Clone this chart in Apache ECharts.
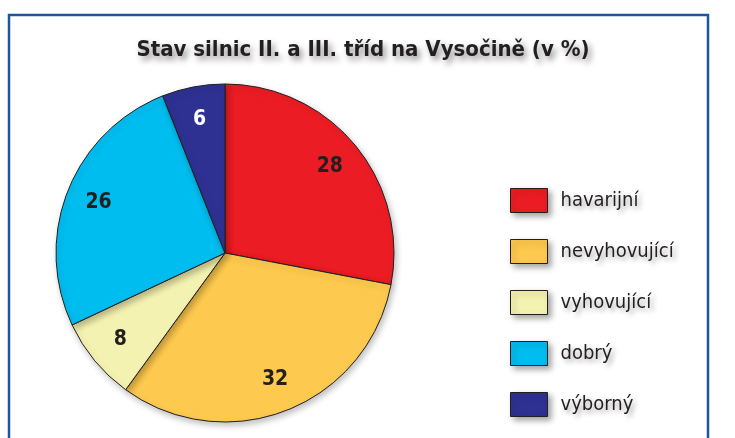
<!DOCTYPE html>
<html>
<head>
<meta charset="utf-8">
<script src="https://cdn.jsdelivr.net/npm/echarts@6/dist/echarts.min.js"></script>
<style>
  html, body { margin: 0; padding: 0; background: #fff; }
  #main { width: 735px; height: 438px; }
</style>
</head>
<body>
<div id="main"></div>
<script>
// stav silnic v %
var categories = ['havarijní', 'nevyhovující', 'vyhovující', 'dobrý', 'výborný'];
var values = [28, 32, 8, 26, 6];
var colors = ['#ec1c24', '#fdc94e', '#f4f2b0', '#00bdf0', '#2e3192'];
var labelColors = ['#231f20', '#231f20', '#231f20', '#231f20', '#ffffff'];

var font = "'DejaVu Sans Condensed', sans-serif";

var pieData = categories.map(function (name, i) {
  return { name: name, value: values[i], itemStyle: { color: colors[i] } };
});
// second (transparent) ring only carries the number labels further out
var labelData = categories.map(function (name, i) {
  return {
    name: name, value: values[i],
    label: { color: labelColors[i] }
  };
});

var myChart = echarts.init(document.getElementById('main'));
myChart.setOption({
  backgroundColor: '#fff',
  animation: false,
  title: {
    text: 'Stav silnic II. a III. tříd na Vysočině (v %)',
    left: 358,
    textAlign: 'center',
    top: 34,
    textStyle: {
      fontFamily: font,
      fontWeight: 'bold',
      fontSize: 22,
      color: '#231f20',
      textShadowColor: 'rgba(0,0,0,0.45)',
      textShadowBlur: 6,
      textShadowOffsetX: 3,
      textShadowOffsetY: 4
    }
  },
  legend: {
    data: categories,
    orient: 'vertical',
    left: 505,
    top: 183,
    itemWidth: 37,
    itemHeight: 24,
    itemGap: 26,
    icon: 'rect',
    itemStyle: {
      borderColor: '#231f20',
      borderWidth: 1,
      shadowColor: 'rgba(0,0,0,0.35)',
      shadowBlur: 6,
      shadowOffsetX: 3,
      shadowOffsetY: 3
    },
    textStyle: {
      fontFamily: font,
      fontSize: 20,
      color: '#231f20',
      padding: [0, 0, 0, 8],
      textShadowColor: 'rgba(0,0,0,0.35)',
      textShadowBlur: 5,
      textShadowOffsetX: 3,
      textShadowOffsetY: 3
    },
    selectedMode: false
  },
  graphic: [{
    type: 'rect',
    shape: { x: 9, y: 15, width: 699, height: 440 },
    style: { fill: 'none', stroke: '#1b55a0', lineWidth: 2.5 },
    z: 100
  }],
  series: [
    {
      name: 'stav',
      type: 'pie',
      center: [225, 253],
      radius: [0, 169],
      startAngle: 90,
      clockwise: true,
      silent: true,
      label: { show: false },
      labelLine: { show: false },
      itemStyle: {
        borderColor: '#231f20',
        borderWidth: 1,
        shadowColor: 'rgba(0,0,0,0.25)',
        shadowBlur: 6,
        shadowOffsetX: 2,
        shadowOffsetY: 3
      },
      data: pieData
    },
    {
      name: 'popisky',
      type: 'pie',
      center: [225, 253],
      radius: [97, 169],
      startAngle: 90,
      clockwise: true,
      silent: true,
      itemStyle: { color: 'rgba(0,0,0,0)', borderWidth: 0 },
      label: {
        show: true,
        position: 'inside',
        formatter: '{c}',
        fontFamily: font,
        fontWeight: 'bold',
        fontSize: 21
      },
      labelLine: { show: false },
      data: labelData
    }
  ]
});
</script>
</body>
</html>
